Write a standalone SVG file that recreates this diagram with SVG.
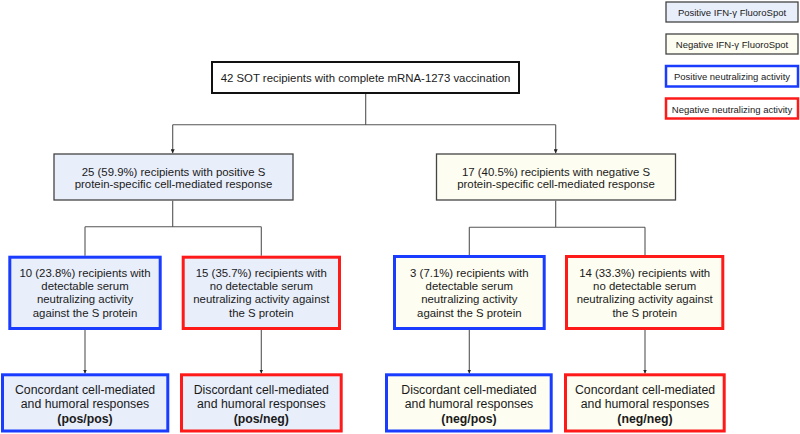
<svg xmlns="http://www.w3.org/2000/svg" width="800" height="434" viewBox="0 0 800 434">
<style>
text{font-family:"Liberation Sans",Arial,sans-serif;fill:#1a1a1a;text-anchor:middle}
.t{font-size:11.4px}
.b{font-size:12.3px}
.lg{font-size:9.5px}
.bold{font-weight:bold}
.posf{fill:#e8eefa}
.negf{fill:#fdfdf1}
.gray{stroke:#444;stroke-width:1.3}
.blue{stroke:#1a3cff;stroke-width:3}
.red{stroke:#ff1a1a;stroke-width:3}
.conn path{fill:none;stroke:#555;stroke-width:1.1}
</style>
<defs>
<marker id="ah" viewBox="0 0 6 6" refX="6" refY="3" markerWidth="4" markerHeight="4" orient="auto" markerUnits="userSpaceOnUse">
<path d="M0,0 L6,3 L0,6 Z" fill="#222"/>
</marker>
</defs>

<g id="legend">
<g id="legend-pos-ifn"><rect x="666" y="2" width="132" height="20" class="posf gray"/><text class="lg" x="732" y="15.5">Positive IFN-γ FluoroSpot</text></g>
<g id="legend-neg-ifn"><rect x="666" y="34" width="132" height="20" class="negf gray"/><text class="lg" x="732" y="47.8">Negative IFN-γ FluoroSpot</text></g>
<g id="legend-pos-neut"><rect x="666" y="66" width="132" height="20.5" fill="#fff" class="blue" style="stroke-width:2.5"/><text class="lg" x="732" y="80.2">Positive neutralizing activity</text></g>
<g id="legend-neg-neut"><rect x="666" y="98.5" width="132" height="20" fill="#fff" class="red" style="stroke-width:2.5"/><text class="lg" x="732" y="112.8">Negative neutralizing activity</text></g>
</g>

<g class="conn" id="connectors">
<path d="M365.7,94 V124.7 M172.7,124.7 H555.7"/>
<path d="M172.7,124.7 V153.3" marker-end="url(#ah)"/>
<path d="M555.7,124.7 V153.3" marker-end="url(#ah)"/>
<path d="M172.7,200.7 V226.8 M85,226.8 H261.3 M85,226.8 V255.7 M261.3,226.8 V255.7"/>
<path d="M555.7,200.7 V227.2 M469.3,227.2 H645 M469.3,227.2 V255 M645,227.2 V255"/>
<path d="M85,330 V373.5" marker-end="url(#ah)"/>
<path d="M261.3,330 V373.5" marker-end="url(#ah)"/>
<path d="M469.3,330 V373.5" marker-end="url(#ah)"/>
<path d="M645,330 V373.5" marker-end="url(#ah)"/>
</g>

<g id="root"><rect x="212" y="62" width="307" height="31" fill="#fff" stroke="#111" stroke-width="2"/><text class="t" x="365.5" y="82.4">42 SOT recipients with complete mRNA-1273 vaccination</text></g>

<g id="pos-cmi"><rect x="54" y="154" width="239" height="46" class="posf gray"/>
<text class="t" x="173.5" y="175.8">25 (59.9%) recipients with positive S</text>
<text class="t" x="173.5" y="187.6">protein-specific cell-mediated response</text></g>

<g id="neg-cmi"><rect x="436.5" y="154" width="239" height="46" class="negf gray"/>
<text class="t" x="556" y="175.8">17 (40.5%) recipients with negative S</text>
<text class="t" x="556" y="187.6">protein-specific cell-mediated response</text></g>

<g id="pos-pos-neut"><rect x="9.8" y="257.2" width="150.4" height="71.3" class="posf blue"/>
<text class="t" x="85" y="276.6">10 (23.8%) recipients with</text>
<text class="t" x="85" y="289.9">detectable serum</text>
<text class="t" x="85" y="303.2">neutralizing activity</text>
<text class="t" x="85" y="316.5">against the S protein</text></g>

<g id="pos-neg-neut"><rect x="183.2" y="257.2" width="156.3" height="71.3" class="posf red"/>
<text class="t" x="261.3" y="276.6">15 (35.7%) recipients with</text>
<text class="t" x="261.3" y="289.9">no detectable serum</text>
<text class="t" x="261.3" y="303.2">neutralizing activity against</text>
<text class="t" x="261.3" y="316.5">the S protein</text></g>

<g id="neg-pos-neut"><rect x="394.5" y="256.5" width="149.7" height="72" class="negf blue"/>
<text class="t" x="469.3" y="276.6">3 (7.1%) recipients with</text>
<text class="t" x="469.3" y="289.9">detectable serum</text>
<text class="t" x="469.3" y="303.2">neutralizing activity</text>
<text class="t" x="469.3" y="316.5">against the S protein</text></g>

<g id="neg-neg-neut"><rect x="566.5" y="256.5" width="156.3" height="72" class="negf red"/>
<text class="t" x="644.7" y="276.6">14 (33.3%) recipients with</text>
<text class="t" x="644.7" y="289.9">no detectable serum</text>
<text class="t" x="644.7" y="303.2">neutralizing activity against</text>
<text class="t" x="644.7" y="316.5">the S protein</text></g>

<g id="pos-pos"><rect x="2.5" y="374.8" width="165.3" height="56.2" class="posf blue"/>
<text class="b" x="85" y="394.3">Concordant cell-mediated</text>
<text class="b" x="85" y="407.7">and humoral responses</text>
<text class="b bold" x="85" y="423.2">(pos/pos)</text></g>

<g id="pos-neg"><rect x="181.5" y="374.8" width="159.7" height="56.2" class="posf red"/>
<text class="b" x="261.3" y="394.3">Discordant cell-mediated</text>
<text class="b" x="261.3" y="407.7">and humoral responses</text>
<text class="b bold" x="261.3" y="423.2">(pos/neg)</text></g>

<g id="neg-pos"><rect x="386.5" y="374.8" width="164.7" height="56.2" class="negf blue"/>
<text class="b" x="469" y="394.3">Discordant cell-mediated</text>
<text class="b" x="469" y="407.7">and humoral responses</text>
<text class="b bold" x="469" y="423.2">(neg/pos)</text></g>

<g id="neg-neg"><rect x="565.5" y="374.8" width="158.7" height="56.2" class="negf red"/>
<text class="b" x="645" y="394.3">Concordant cell-mediated</text>
<text class="b" x="645" y="407.7">and humoral responses</text>
<text class="b bold" x="645" y="423.2">(neg/neg)</text></g>
</svg>
